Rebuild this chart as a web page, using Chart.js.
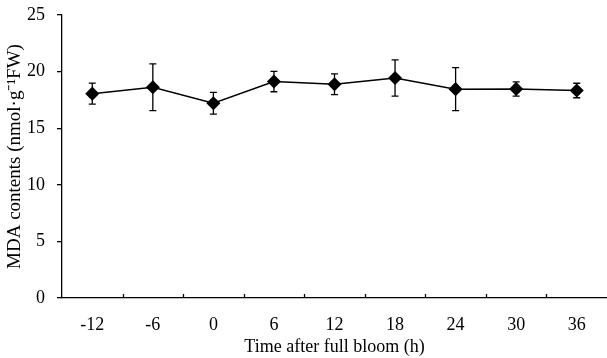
<!DOCTYPE html>
<html>
<head>
<meta charset="utf-8">
<script src="https://cdn.jsdelivr.net/npm/chart.js@4/dist/chart.umd.min.js"></script>
<style>
  html, body { margin: 0; padding: 0; background: #fff; }
  #wrap { width: 607px; height: 358px; }
</style>
</head>
<body>
<div id="wrap"><canvas id="chart" width="607" height="358"></canvas></div>
<script>
// --- Data ---
const hours = ['-12', '-6', '0', '6', '12', '18', '24', '30', '36'];
const mda = [18.05, 18.62, 17.2, 19.12, 18.88, 19.43, 18.45, 18.47, 18.33];
const mdaErr = [0.93, 2.07, 0.96, 0.9, 0.92, 1.6, 1.9, 0.63, 0.64];
const yTicks = [0, 5, 10, 15, 20, 25];

const FONT = "'Liberation Serif', 'Times New Roman', serif";

// error bars + inward x ticks, drawn through the scales
const errorBars = {
  id: 'errorBars',
  afterDatasetsDraw(chart) {
    const ctx = chart.ctx;
    const x = chart.scales.x, y = chart.scales.y;
    ctx.save();
    ctx.strokeStyle = '#000';
    ctx.lineWidth = 1.3;
    mda.forEach((v, i) => {
      const px = x.getPixelForValue(i);
      const top = y.getPixelForValue(v + mdaErr[i]);
      const bot = y.getPixelForValue(v - mdaErr[i]);
      ctx.beginPath();
      ctx.moveTo(px, top); ctx.lineTo(px, bot);
      ctx.moveTo(px - 3.5, top); ctx.lineTo(px + 3.5, top);
      ctx.moveTo(px - 3.5, bot); ctx.lineTo(px + 3.5, bot);
      ctx.stroke();
    });
    // category separators as small ticks pointing up
    const base = y.getPixelForValue(0);
    for (let i = 1; i < hours.length; i++) {
      const px = Math.round(x.getPixelForValue(i - 0.5)) + 0.5;
      ctx.beginPath();
      ctx.moveTo(px, base); ctx.lineTo(px, base - 4);
      ctx.stroke();
    }
    ctx.restore();
  }
};

new Chart(document.getElementById('chart'), {
  type: 'line',
  data: {
    labels: hours,
    datasets: [{
      data: mda,
      borderColor: '#000',
      backgroundColor: '#000',
      borderWidth: 1.5,
      pointStyle: 'rectRot',
      pointRadius: 6,
      pointHoverRadius: 6,
      tension: 0
    }]
  },
  options: {
    responsive: false,
    animation: false,
    layout: { autoPadding: false, padding: { left: 0, right: 0, top: 15, bottom: 0 } },
    plugins: { legend: { display: false }, tooltip: { enabled: false } },
    scales: {
      x: {
        offset: true,
        afterFit: s => { s.height = 60; s.paddingLeft = 0; s.paddingRight = 0; },
        grid: { display: false, offset: true },
        border: { color: '#000', width: 1.3 },
        ticks: { color: '#000', font: { family: FONT, size: 18 }, padding: 8, maxRotation: 0 },
        title: {
          display: true, text: 'Time after full bloom (h)', color: '#000',
          font: { family: FONT, size: 18 }, padding: { top: 0, bottom: 0 }
        }
      },
      y: {
        min: 0, max: 25,
        afterFit: s => { s.width = 62; s.paddingTop = 0; s.paddingBottom = 0; },
        afterBuildTicks: s => { s.ticks = yTicks.map(v => ({ value: v })); },
        grid: { drawOnChartArea: false, drawTicks: true, tickLength: 5, color: '#000', lineWidth: 1.3 },
        border: { color: '#000', width: 1.3 },
        ticks: { color: '#000', font: { family: FONT, size: 18 }, padding: 12 },
        title: {
          display: true, text: 'MDA contents (nmol\u00b7g\u207b\u00b9FW)', color: '#000',
          font: { family: FONT, size: 19 }, padding: { top: 4, bottom: 0 }
        }
      }
    }
  },
  plugins: [errorBars]
});
</script>
</body>
</html>
